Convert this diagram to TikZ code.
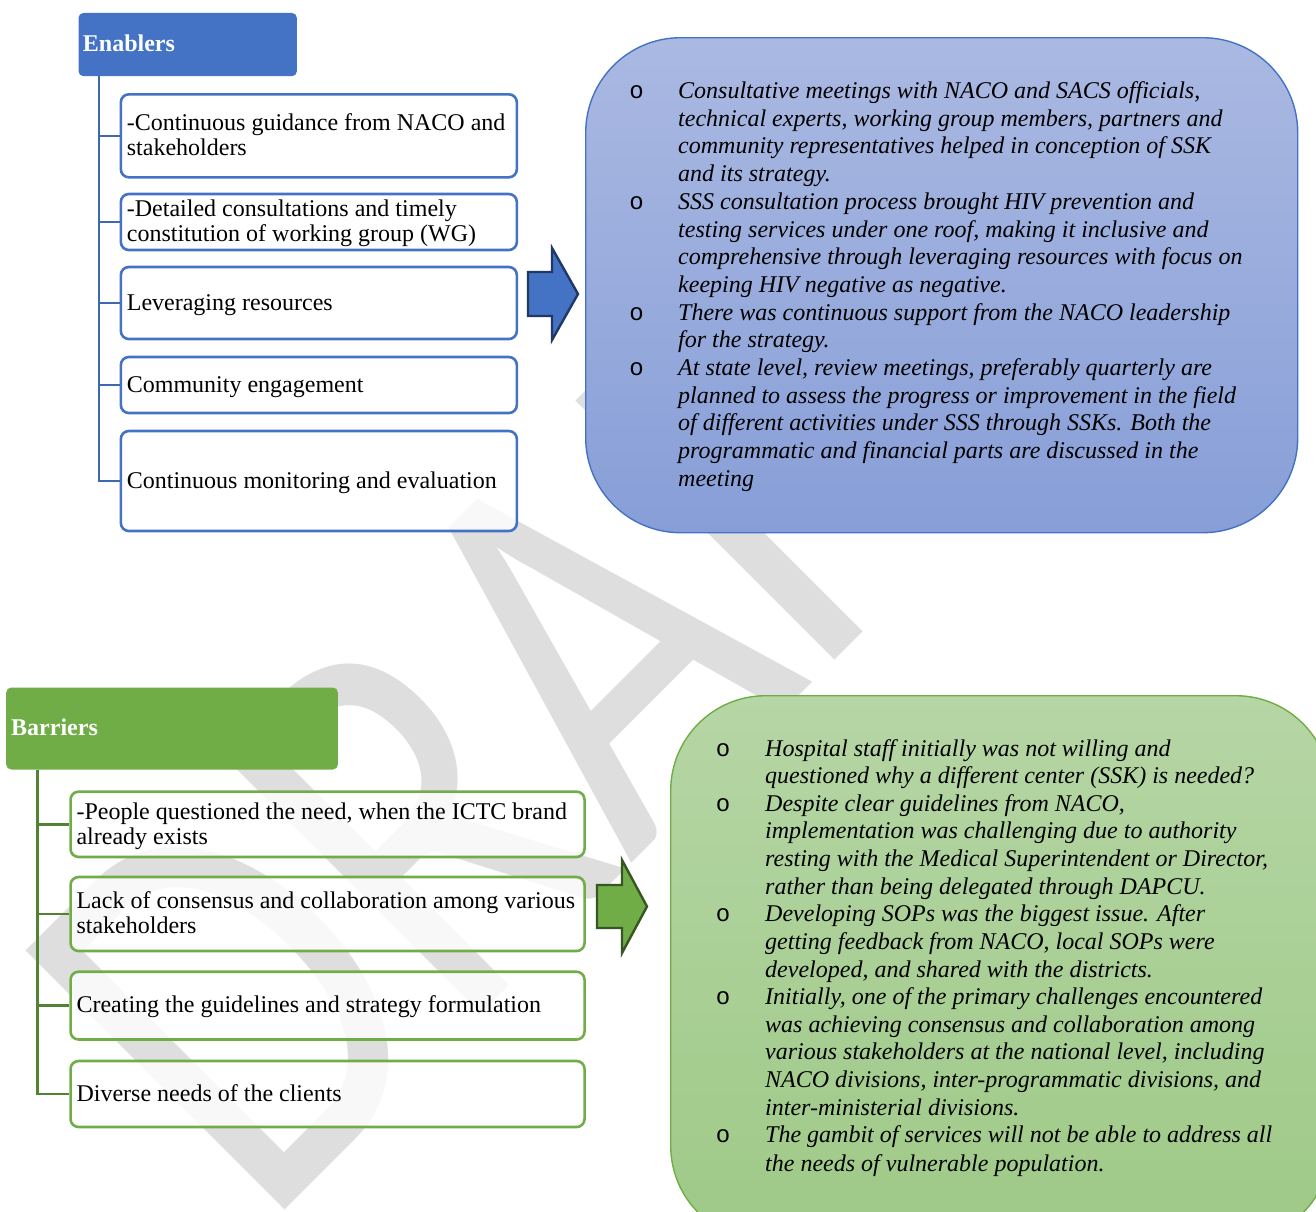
\documentclass[tikz,border=0pt]{standalone}
\usepackage{fontspec}
\usepackage{graphicx}
\setmainfont{Liberation Serif}
\newfontfamily\bulletfont{Liberation Mono}
\newfontfamily\wmfont{Carlito}

\definecolor{accentblue}{RGB}{68,114,196}
\definecolor{navyedge}{RGB}{32,56,100}
\definecolor{treeblue}{RGB}{62,104,178}
\definecolor{accentgreen}{RGB}{112,173,71}
\definecolor{treegreen}{RGB}{84,130,53}
\definecolor{darkgreenedge}{RGB}{55,86,35}
\definecolor{paneltopB}{RGB}{170,185,226}
\definecolor{panelbotB}{RGB}{135,158,215}
\definecolor{paneltopG}{RGB}{182,214,165}
\definecolor{panelbotG}{RGB}{158,201,135}
\definecolor{wmgray}{RGB}{222,222,222}

% left-aligned block of lines of a fixed width, set a little low in its box
\newcommand\boxlines[2]{\raisebox{-2.2pt}[\height][\depth]{\makebox[#1][l]{\begin{tabular}{@{}l@{}}#2\end{tabular}}}}

\tikzset{
  wmark/.style={inner sep=0pt, text=wmgray, font=\wmfont\fontsize{571}{571}\selectfont},
  headbox/.style={rectangle, rounded corners=5pt, inner sep=0pt, anchor=north west},
  headtext/.style={inner sep=0pt, anchor=base west, text=white, font=\fontsize{24}{25}\selectfont\bfseries},
  itembox/.style={rectangle, rounded corners=8pt, line width=2.6pt, fill=white, fill opacity=0.8,
    text opacity=1, inner xsep=6pt, inner ysep=0pt, font=\fontsize{24}{25}\selectfont},
  itemB/.style={itembox, draw=accentblue, minimum width=396pt},
  itemG/.style={itembox, draw=accentgreen, minimum width=514pt},
  treeB/.style={draw=treeblue, line width=2.6pt},
  treeG/.style={draw=treegreen, line width=2.6pt},
  panel/.style={rectangle, rounded corners=95pt, line width=1.4pt, anchor=north west, inner sep=0pt},
  panelB/.style={panel, draw=accentblue, top color=paneltopB, bottom color=panelbotB},
  panelG/.style={panel, draw=accentgreen, top color=paneltopG, bottom color=panelbotG},
  ptext/.style={inner sep=0pt, anchor=base west, font=\fontsize{24}{27.7}\selectfont\itshape},
  pbullet/.style={inner sep=0pt, anchor=base, font=\bulletfont\fontsize{24}{24}\selectfont},
  fatarrowB/.style={fill=accentblue, draw=navyedge, line width=2.4pt, line join=miter},
  fatarrowG/.style={fill=accentgreen, draw=darkgreenedge, line width=2.4pt, line join=miter},
}

\begin{document}
\begin{tikzpicture}[x=1pt,y=-1pt]
\useasboundingbox (0,0) rectangle (1316,1211);
\clip (0,0) rectangle (1316,1211);
\fill[white] (0,0) rectangle (1316,1211);

% watermark
\node[wmark, rotate=45, anchor=base west] (draft) at (263,1232) {\scalebox{0.785}[1]{DRAFT}};

% ---------- Enablers ----------
\node[headbox, fill=accentblue, minimum width=218.4pt, minimum height=63.3pt] (hE) at (78.3,12.7) {};
\node[headtext] (hEt) at (82.7,51.7) {Enablers};

\node[itemB, minimum height=83pt]  (e1) at (318.85,135.8) {\boxlines{384pt}{-Continuous guidance from NACO and\\stakeholders}};
\node[itemB, minimum height=56pt]  (e2) at (318.85,222)   {\boxlines{384pt}{-Detailed consultations and timely\\constitution of working group (WG)}};
\node[itemB, minimum height=72pt]  (e3) at (318.85,303)   {\boxlines{384pt}{Leveraging resources}};
\node[itemB, minimum height=56pt]  (e4) at (318.85,385)   {\boxlines{384pt}{Community engagement}};
\node[itemB, minimum height=100pt] (e5) at (318.85,481)   {\boxlines{384pt}{Continuous monitoring and evaluation}};

\foreach \n in {e1,e2,e3,e4,e5}
  \draw[treeB] ([xshift=20.7pt]hE.south west) |- (\n.west);

% arrow into the enablers panel
\coordinate (aB) at (528,294.5);
\draw[fatarrowB] (aB) ++(0,-22.5) -- ++(24,0) -- ++(0,-24) -- ++(26,46) -- ++(-26,46) -- ++(0,-24) -- ++(-24,0) -- cycle;

\node[panelB, minimum width=712pt, minimum height=495pt] (pB) at (585,37) {};

\node[pbullet] (ob1) at (636.5,98.5) {o};
\node[ptext] (tb1) at (678,98.5) {\begin{tabular}[t]{@{}l@{}}
Consultative meetings with NACO and SACS officials,\\
technical experts, working group members, partners and\\
community representatives helped in conception of SSK\\
and its strategy.\end{tabular}};
\node[pbullet] (ob2) at (636.5,209.3) {o};
\node[ptext] (tb2) at (678,209.3) {\begin{tabular}[t]{@{}l@{}}
SSS consultation process brought HIV prevention and\\
testing services under one roof, making it inclusive and\\
comprehensive through leveraging resources with focus on\\
keeping HIV negative as negative.\end{tabular}};
\node[pbullet] (ob3) at (636.5,320.1) {o};
\node[ptext] (tb3) at (678,320.1) {\begin{tabular}[t]{@{}l@{}}
There was continuous support from the NACO leadership\\
for the strategy.\end{tabular}};
\node[pbullet] (ob4) at (636.5,375.5) {o};
\node[ptext] (tb4) at (678,375.5) {\begin{tabular}[t]{@{}l@{}}
At state level, review meetings, preferably quarterly are\\
planned to assess the progress or improvement in the field\\
of different activities under SSS through SSKs. Both the\\
programmatic and financial parts are discussed in the\\
meeting\end{tabular}};

% ---------- Barriers ----------
\node[headbox, fill=accentgreen, minimum width=331.7pt, minimum height=82pt] (hB) at (6,687.3) {};
\node[headtext] (hBt) at (11,735) {Barriers};

\node[itemG, minimum height=65.3pt] (b1) at (327.55,824.3) {\boxlines{502pt}{-People questioned the need, when the ICTC brand\\already exists}};
\node[itemG, minimum height=74pt]   (b2) at (327.55,914)   {\boxlines{502pt}{Lack of consensus and collaboration among various\\stakeholders}};
\node[itemG, minimum height=67.8pt] (b3) at (327.55,1005.6) {\boxlines{502pt}{Creating the guidelines and strategy formulation}};
\node[itemG, minimum height=66pt]   (b4) at (327.55,1094)  {\boxlines{502pt}{Diverse needs of the clients}};

\foreach \n in {b1,b2,b3,b4}
  \draw[treeG] ([xshift=31.7pt]hB.south west) |- (\n.west);

% arrow into the barriers panel
\coordinate (aG) at (597,906.5);
\draw[fatarrowG] (aG) ++(0,-21.5) -- ++(25,0) -- ++(0,-25) -- ++(25,46.5) -- ++(-25,46.5) -- ++(0,-25) -- ++(-25,0) -- cycle;

\node[panelG, minimum width=660pt, minimum height=545pt] (pG) at (670,695) {};

\node[pbullet] (og1) at (723,756) {o};
\node[ptext] (tg1) at (765,756) {\begin{tabular}[t]{@{}l@{}}
Hospital staff initially was not willing and\\
questioned why a different center (SSK) is needed?\end{tabular}};
\node[pbullet] (og2) at (723,811.2) {o};
\node[ptext] (tg2) at (765,811.2) {\begin{tabular}[t]{@{}l@{}}
Despite clear guidelines from NACO,\\
implementation was challenging due to authority\\
resting with the Medical Superintendent or Director,\\
rather than being delegated through DAPCU.\end{tabular}};
\node[pbullet] (og3) at (723,921.6) {o};
\node[ptext] (tg3) at (765,921.6) {\begin{tabular}[t]{@{}l@{}}
Developing SOPs was the biggest issue. After\\
getting feedback from NACO, local SOPs were\\
developed, and shared with the districts.\end{tabular}};
\node[pbullet] (og4) at (723,1004.4) {o};
\node[ptext] (tg4) at (765,1004.4) {\begin{tabular}[t]{@{}l@{}}
Initially, one of the primary challenges encountered\\
was achieving consensus and collaboration among\\
various stakeholders at the national level, including\\
NACO divisions, inter-programmatic divisions, and\\
inter-ministerial divisions.\end{tabular}};
\node[pbullet] (og5) at (723,1142.4) {o};
\node[ptext] (tg5) at (765,1142.4) {\begin{tabular}[t]{@{}l@{}}
The gambit of services will not be able to address all\\[1.7pt]
the needs of vulnerable population.\end{tabular}};
\end{tikzpicture}
\end{document}
